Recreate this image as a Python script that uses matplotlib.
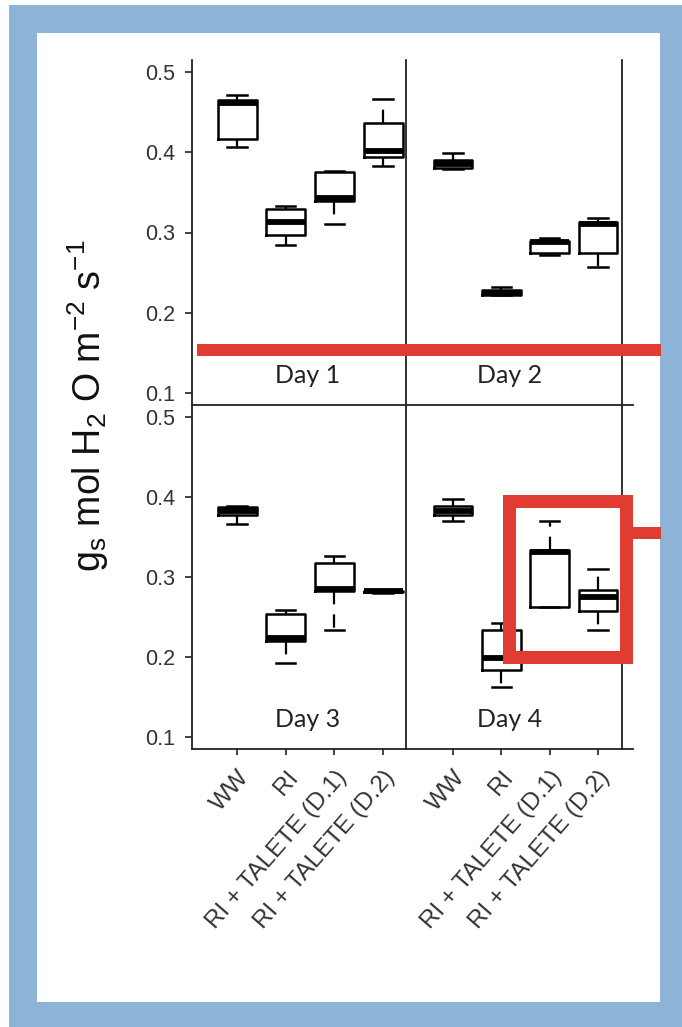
import matplotlib.pyplot as plt
from matplotlib.patches import Rectangle
from matplotlib.lines import Line2D

plt.rcParams['font.family'] = ['Liberation Sans', 'DejaVu Sans']
plt.rcParams['mathtext.default'] = 'regular'

# treatments and days
groups = ['WW', 'RI', 'RI + TALETE (D.1)', 'RI + TALETE (D.2)']
days = ['Day 1', 'Day 2', 'Day 3', 'Day 4']

# box stats, one row per day, one column per treatment
whislo = [[0.406, 0.285, 0.310, 0.383],
          [0.379, 0.222, 0.272, 0.257],
          [0.366, 0.193, 0.234, 0.280],
          [0.370, 0.163, 0.262, 0.234]]
q1 = [[0.417, 0.297, 0.339, 0.394],
      [0.380, 0.222, 0.274, 0.274],
      [0.377, 0.220, 0.282, 0.281],
      [0.377, 0.184, 0.262, 0.257]]
med = [[0.462, 0.313, 0.343, 0.402],
       [0.385, 0.225, 0.288, 0.311],
       [0.382, 0.224, 0.285, 0.282],
       [0.383, 0.199, 0.331, 0.275]]
q3 = [[0.465, 0.329, 0.375, 0.436],
      [0.390, 0.228, 0.290, 0.313],
      [0.388, 0.254, 0.318, 0.283],
      [0.389, 0.234, 0.334, 0.284]]
whishi = [[0.471, 0.333, 0.377, 0.467],
          [0.399, 0.232, 0.293, 0.318],
          [0.389, 0.259, 0.326, 0.284],
          [0.397, 0.243, 0.370, 0.310]]
yticks = [0.1, 0.2, 0.3, 0.4, 0.5]

W, H = 682, 1027
blue = '#8db4d7'
red = '#e03c32'
ink = '#222222'

def fx(x):
    return x / W

def fy(y):
    return 1 - y / H

def rect(x0, y0, x1, y1):
    return [fx(x0), fy(y1), (x1 - x0) / W, (y1 - y0) / H]

fig = plt.figure(figsize=(W / 100, H / 100), dpi=100)
fig.patch.set_facecolor('white')

# blue frame + white card
fig.add_artist(Rectangle((fx(9), 0), 1 - fx(9), fy(5), transform=fig.transFigure,
                         fc=blue, ec='none', zorder=-3))
fig.add_artist(Rectangle((fx(37), fy(1002)), (660 - 37) / W, (1002 - 33) / H,
                         transform=fig.transFigure, fc='white', ec='none', zorder=-2))

cols = [(192, 406), (406, 622)]
rows = [(60, 405), (405, 749)]
xlims = [(0.075, 4.47), (0.03, 4.50)]
dayx = [0.542, 0.48]

axes = []
for r in range(2):
    for c in range(2):
        ax = fig.add_axes(rect(cols[c][0], rows[r][0], cols[c][1], rows[r][1]))
        ax.patch.set_alpha(0)
        axes.append((ax, r, c))

for i, (ax, r, c) in enumerate(axes):
    stats = [dict(med=med[i][j], q1=q1[i][j], q3=q3[i][j],
                  whislo=whislo[i][j], whishi=whishi[i][j], fliers=[])
             for j in range(len(groups))]
    ax.bxp(stats, positions=range(1, 5), widths=0.8, capwidths=0.4, showfliers=False,
           boxprops=dict(color='k', lw=1.8),
           medianprops=dict(color='k', lw=4.2, solid_capstyle='butt'),
           whiskerprops=dict(color='k', lw=1.6, linestyle=(0, (6, 4.5))),
           capprops=dict(color='k', lw=1.8))
    ax.set_ylim(0.085, 0.515)
    ax.set_xlim(*xlims[c])
    ax.spines['top'].set_visible(False)
    for s in ['left', 'right', 'bottom']:
        ax.spines[s].set_color(ink)
        ax.spines[s].set_linewidth(1.3)
    if c == 1:
        ax.spines['left'].set_visible(False)
        ax.set_yticks([])
    else:
        ax.set_yticks(yticks)
        ax.set_yticklabels(['%.1f' % v for v in yticks], fontsize=15.5, color='#333333')
        ax.tick_params(axis='y', length=5, width=1.2, color=ink, pad=7)
    if r == 0:
        ax.set_xticks([])
    else:
        ax.set_xticks(range(1, 5))
        ax.set_xticklabels(groups, rotation=49, ha='right', rotation_mode='anchor',
                           fontsize=17.5, color='#333333')
        ax.tick_params(axis='x', length=4.5, width=1.2, color=ink, pad=8)
    ax.text(dayx[c], 0.064, days[i], transform=ax.transAxes, ha='center', va='baseline',
            fontsize=18, family=['Lato', 'DejaVu Sans'], color=ink)

# frame lines running past the right edge
for yy in [405, 749]:
    fig.add_artist(Line2D([fx(622), fx(633)], [fy(yy), fy(yy)], transform=fig.transFigure,
                          color=ink, lw=1.3))

fig.text(fx(88), fy(406),
         r'g$_{s}$ mol H$_{2}$ O m$^{-2}$ s$^{-1}$',
         rotation=90, ha='center', va='center', fontsize=27, color='#111111')

# red highlights
lw12 = 12 * 0.72
fig.add_artist(Line2D([fx(197), fx(661)], [fy(350), fy(350)], transform=fig.transFigure,
                      color=red, lw=lw12, solid_capstyle='butt', zorder=5))
fig.add_artist(Line2D([fx(633), fx(661)], [fy(533), fy(533)], transform=fig.transFigure,
                      color=red, lw=lw12, solid_capstyle='butt', zorder=5))
fig.add_artist(Rectangle((fx(509), fy(657)), (626 - 509) / W, (657 - 501) / H,
                         transform=fig.transFigure, fill=False, ec=red, lw=13 * 0.72,
                         joinstyle='miter', zorder=5))

plt.savefig('out.png', dpi=100)
